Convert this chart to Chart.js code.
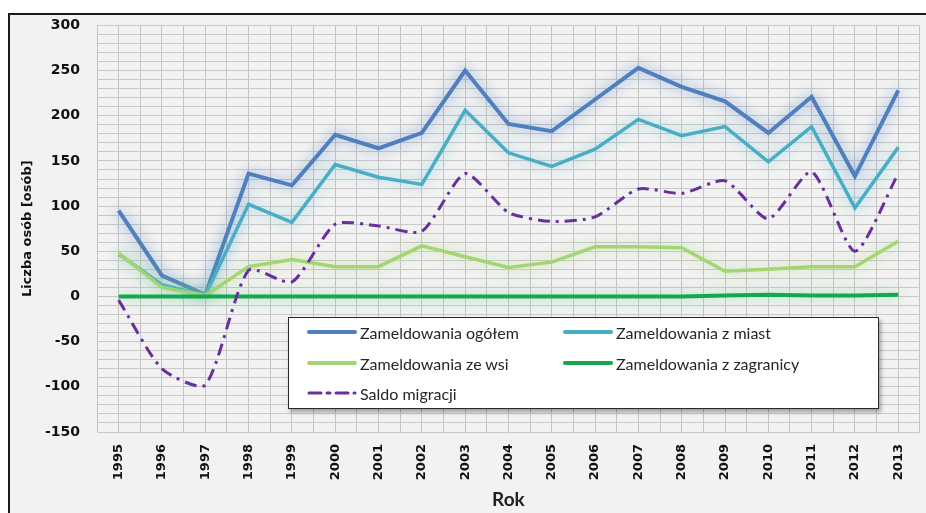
<!DOCTYPE html>
<html lang="pl">
<head>
    <meta charset="UTF-8">
    <title>Zameldowania i saldo migracji 1995-2013</title>
    <script src="https://cdn.jsdelivr.net/npm/chart.js"></script>
    <style>
        body {
            margin: 0;
            width: 926px;
            height: 513px;
            background: #ffffff;
            overflow: hidden;
            position: relative;
        }

        .frame {
            position: absolute;
            left: 8px;
            top: 13px;
            width: 940px;
            height: 520px;
            border: 2px solid #1c1c1c;
            background: #f2f2f2;
        }

        #chart {
            position: absolute;
            left: 0;
            top: 0;
        }

        .legend {
            position: absolute;
            left: 288px;
            top: 317px;
            width: 589px;
            height: 90px;
            background: #ffffff;
            border: 1px solid #2a2a2a;
            box-shadow: 2px 3px 4px rgba(0, 0, 0, 0.35);
            font-family: Lato, "Open Sans", sans-serif;
            font-size: 16px;
            color: #262626;
        }

        .legend .item {
            position: absolute;
            display: flex;
            align-items: center;
            height: 20px;
            white-space: nowrap;
        }

        .legend svg {
            margin-right: 3px;
        }
    </style>
</head>
<body>
    <div class="frame"></div>
    <canvas id="chart" width="926" height="513"></canvas>
    <div class="legend" id="legend"></div>

    <script>
        // data
        const years = ['1995', '1996', '1997', '1998', '1999', '2000', '2001', '2002', '2003', '2004',
                       '2005', '2006', '2007', '2008', '2009', '2010', '2011', '2012', '2013'];
        const ogolem    = [95, 23, 2, 136, 123, 179, 164, 181, 250, 191, 183, 218, 253, 232, 216, 181, 221, 133, 228];
        const zMiast    = [47, 13, 1, 102, 82, 146, 132, 124, 206, 159, 144, 163, 196, 178, 188, 149, 188, 98, 165];
        const zeWsi     = [48, 10, 1, 33, 41, 33, 33, 56, 44, 32, 38, 55, 55, 54, 28, 30, 33, 33, 61];
        const zZagranicy = [0, 0, 0, 0, 0, 0, 0, 0, 0, 0, 0, 0, 0, 0, 1, 2, 1, 1, 2];
        const saldo     = [-4, -80, -98, 29, 16, 80, 78, 72, 136, 93, 83, 88, 119, 114, 128, 86, 138, 50, 136];

        const yMin = -150, yMax = 300;

        const tickFont = { family: '"DejaVu Sans", Verdana, sans-serif', size: 13, weight: 'bold' };
        const yTickFont = { family: '"DejaVu Sans", Verdana, sans-serif', size: 14, weight: 'bold' };

        // soft glow behind some of the lines (like the Excel effect)
        const glowPlugin = {
            id: 'glow',
            beforeDatasetDraw(chart, args) {
                const ds = chart.data.datasets[args.index];
                if (!ds.glowColor) return;
                const c = chart.ctx;
                c.save();
                c.shadowColor = ds.glowColor;
                c.shadowBlur = 14;
                c.shadowOffsetX = 0;
                c.shadowOffsetY = 0;
            },
            afterDatasetDraw(chart, args) {
                const ds = chart.data.datasets[args.index];
                if (!ds.glowColor) return;
                chart.ctx.restore();
            }
        };

        const datasets = [
            {
                label: 'Zameldowania ogółem',
                data: ogolem,
                borderColor: '#4f7fbf',
                glowColor: 'rgba(79, 127, 191, 0.75)',
                borderWidth: 4,
                order: 5
            },
            {
                label: 'Zameldowania z miast',
                data: zMiast,
                borderColor: '#4aadc6',
                glowColor: 'rgba(74, 173, 198, 0.6)',
                borderWidth: 3.5,
                order: 4
            },
            {
                label: 'Zameldowania ze wsi',
                data: zeWsi,
                borderColor: '#a3d672',
                glowColor: 'rgba(163, 214, 114, 0.7)',
                borderWidth: 3.5,
                order: 3
            },
            {
                label: 'Zameldowania z zagranicy',
                data: zZagranicy,
                borderColor: '#12a84f',
                glowColor: 'rgba(120, 210, 150, 0.8)',
                borderWidth: 4,
                order: 2
            },
            {
                label: 'Saldo migracji',
                data: saldo,
                borderColor: '#6a2f9e',
                borderWidth: 3,
                borderDash: [12, 6, 3, 6],
                tension: 0.22,
                order: 1
            }
        ];

        datasets.forEach(ds => {
            ds.pointRadius = 0;
            ds.pointHoverRadius = 0;
            ds.fill = false;
            ds.borderCapStyle = 'butt';
            ds.borderJoinStyle = 'miter';
            ds.xAxisID = 'x';
        });

        const chart = new Chart(document.getElementById('chart'), {
            type: 'line',
            data: { labels: years, datasets: datasets },
            plugins: [glowPlugin],
            options: {
                responsive: false,
                animation: false,
                devicePixelRatio: 1,
                layout: { padding: { top: 25, right: 6, left: 0, bottom: 0 } },
                plugins: {
                    legend: { display: false },
                    tooltip: { enabled: false }
                },
                scales: {
                    x: {
                        type: 'category',
                        offset: true,
                        grid: { display: false, drawTicks: false },
                        border: { display: false },
                        ticks: {
                            font: tickFont,
                            color: '#111',
                            minRotation: 90,
                            maxRotation: 90,
                            autoSkip: false,
                            padding: 12
                        },
                        title: {
                            display: true,
                            text: 'Rok',
                            font: { family: 'Lato, sans-serif', size: 19, weight: 'bold' },
                            color: '#222',
                            padding: { top: 0, bottom: 2 }
                        },
                        afterFit(scale) { scale.height = 81; }
                    },
                    // only for the fine vertical grid (category centres and edges)
                    xg: {
                        type: 'linear',
                        position: 'bottom',
                        min: -0.5,
                        max: years.length - 0.5,
                        grid: { color: '#c4c4c4', lineWidth: 1, drawTicks: false },
                        border: { display: false },
                        ticks: { display: false, stepSize: 0.5, maxTicksLimit: 200, autoSkip: false },
                        afterFit(scale) { scale.height = 0; }
                    },
                    y: {
                        min: yMin,
                        max: yMax,
                        grid: { color: '#c8c8c8', lineWidth: 1, drawTicks: false },
                        border: { display: false },
                        ticks: {
                            stepSize: 10,
                            maxTicksLimit: 200,
                            autoSkip: false,
                            font: yTickFont,
                            color: '#111',
                            padding: 17,
                            callback: v => (v % 50 === 0 ? v : '')
                        },
                        title: {
                            display: true,
                            text: 'Liczba osób [osób]',
                            font: tickFont,
                            color: '#111',
                            padding: { top: 20, bottom: 0 }
                        },
                        afterFit(scale) { scale.width = 97; }
                    }
                }
            }
        });

        // legend box drawn inside the plot, built from the datasets
        const legendEl = document.getElementById('legend');
        const colX = [18, 274];
        const rowY = [4, 35, 65];
        datasets.forEach((ds, i) => {
            const item = document.createElement('div');
            item.className = 'item';
            item.style.left = colX[i % 2] + 'px';
            item.style.top = rowY[Math.floor(i / 2)] + 'px';
            const dash = ds.borderDash ? ' stroke-dasharray="' + ds.borderDash.join(' ') + '"' : '';
            const sw = ds.borderDash ? 3 : 4;
            item.innerHTML =
                '<svg width="50" height="10"><line x1="2" y1="5" x2="48" y2="5" stroke="' + ds.borderColor +
                '" stroke-width="' + sw + '" stroke-linecap="round"' + dash + '/></svg>' +
                '<span>' + ds.label + '</span>';
            legendEl.appendChild(item);
        });
    </script>
</body>
</html>
